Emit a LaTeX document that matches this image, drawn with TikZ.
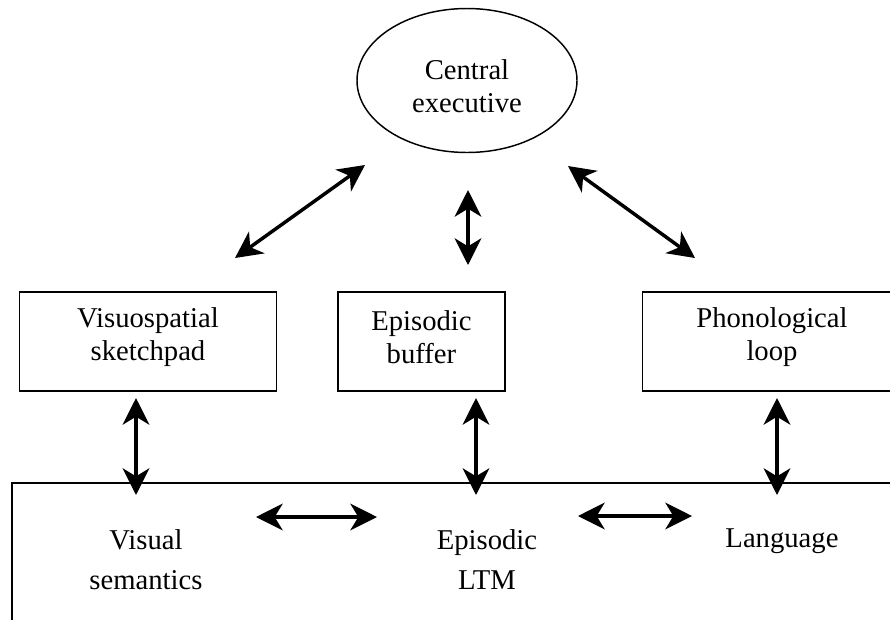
\documentclass[tikz,border=0pt]{standalone}
\usepackage{fontspec}
\setmainfont{Liberation Serif}
\usetikzlibrary{arrows.meta,shapes.geometric}
\begin{document}
\begin{tikzpicture}[x=0.75pt,y=-0.75pt,
  lbl/.style={font=\fontsize{21.5}{24.75}\selectfont, align=center, inner sep=0pt},
  ltmlbl/.style={font=\fontsize{21.5}{30}\selectfont, align=center, inner sep=0pt},
  boxnode/.style={draw, line width=1.1pt, rectangle, minimum height=74pt, inner sep=0pt},
  arr/.style={{Stealth[length=20pt,width=20pt,inset=6pt]}-{Stealth[length=20pt,width=20pt,inset=6pt]}, line width=2.6pt}]
\useasboundingbox (0,0) rectangle (890,619);
\clip (0,0) rectangle (890,619);
% central executive
\node[draw, ellipse, line width=1.1pt, minimum width=165pt, minimum height=108pt, inner sep=0pt] (ce) at (467,80.5) {};
\node[lbl] (cetext) at (467,86) {Central\\executive};
% boxes
\node[boxnode, minimum width=193pt] (vs) at (148,341.5) {};
\node[lbl] (vstext) at (148,337) {Visuospatial\\sketchpad};
\node[boxnode, minimum width=125pt] (eb) at (421.5,341.5) {};
\node[lbl] (ebtext) at (421.5,337) {Episodic\\buffer};
\node[boxnode, minimum width=194pt] (pl) at (772,341.5) {};
\node[lbl] (pltext) at (772,337) {Phonological\\loop};
% long-term memory region
\coordinate (ltmbl) at (12,660);
\coordinate (ltmtl) at (12,483);
\coordinate (ltmtr) at (920,483);
\draw[line width=1.5pt] (ltmbl) -- (ltmtl) -- (ltmtr);
\node[ltmlbl] (vsem) at (146,560) {Visual\\semantics};
\node[ltmlbl] (eltm) at (487,560) {Episodic\\LTM};
\node[ltmlbl] (lang) at (782,541) {Language};
% arrow end points
\coordinate (a1s) at (235,258);
\coordinate (a1e) at (365,165);
\coordinate (a2s) at (468,190);
\coordinate (a2e) at (468,265);
\coordinate (a3s) at (568,166);
\coordinate (a3e) at (695,258);
\coordinate (b1s) at (136,398);
\coordinate (b1e) at (136,495);
\coordinate (b2s) at (476,398);
\coordinate (b2e) at (476,495);
\coordinate (b3s) at (777,398);
\coordinate (b3e) at (777,495);
\coordinate (h1s) at (256,517);
\coordinate (h1e) at (377,517);
\coordinate (h2s) at (578,516);
\coordinate (h2e) at (692,516);
\draw[arr] (a1s) -- (a1e);
\draw[arr] (a2s) -- (a2e);
\draw[arr] (a3s) -- (a3e);
\draw[arr] (b1s) -- (b1e);
\draw[arr] (b2s) -- (b2e);
\draw[arr] (b3s) -- (b3e);
\draw[arr] (h1s) -- (h1e);
\draw[arr] (h2s) -- (h2e);
\end{tikzpicture}
\end{document}
